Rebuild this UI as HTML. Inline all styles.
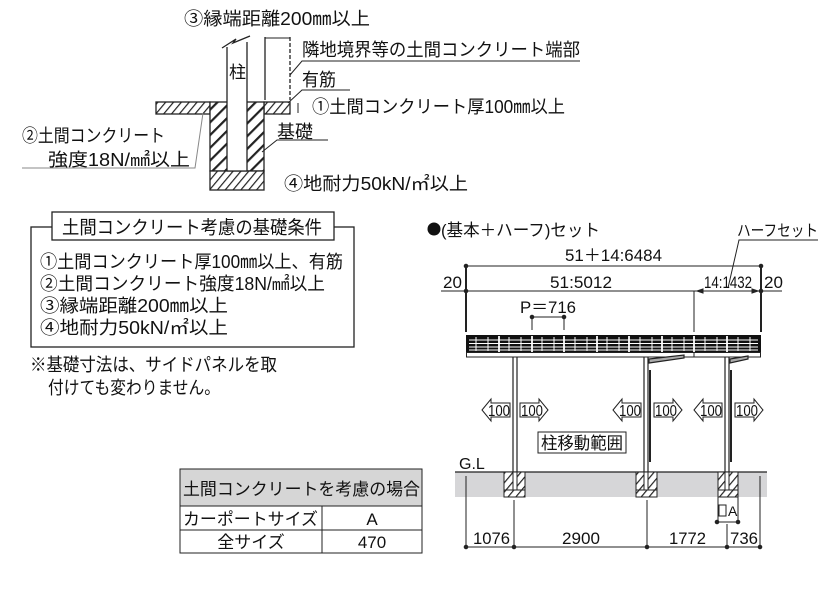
<!DOCTYPE html>
<html><head><meta charset="utf-8"><style>
html,body{margin:0;padding:0;background:#fff}
svg{display:block}
text{font-family:"Liberation Sans","Noto Sans CJK JP",sans-serif;fill:#111}
</style></head><body>
<svg width="831" height="597" viewBox="0 0 831 597" xmlns="http://www.w3.org/2000/svg">
<defs>
<pattern id="h" width="9" height="9" patternUnits="userSpaceOnUse" patternTransform="rotate(45)">
<rect width="9" height="9" fill="#fff"/><rect x="0" y="0" width="2.2" height="9" fill="#222"/>
</pattern>
<pattern id="h2" width="6" height="6" patternUnits="userSpaceOnUse" patternTransform="rotate(40)">
<rect width="6" height="6" fill="#fff"/><rect x="0" y="0" width="1.2" height="6" fill="#222"/>
</pattern>
<g id="la"><polygon points="0,11 9,0 9,4 28,4 28,18 9,18 9,22" fill="#fff" stroke="#222" stroke-width="1"/></g>
<g id="ra"><polygon points="28,11 19,0 19,4 0,4 0,18 19,18 19,22" fill="#fff" stroke="#222" stroke-width="1"/></g>
</defs>

<!-- top-left detail -->
<g stroke="#222" stroke-width="1.3" fill="none">
<rect x="156" y="102" width="54" height="12" fill="url(#h2)"/>
<rect x="264" y="102" width="26" height="12" fill="url(#h2)"/>
<rect x="210" y="102" width="54" height="69" fill="url(#h)"/>
<rect x="210" y="171" width="54" height="19" fill="url(#h2)"/>
<rect x="227" y="44" width="20" height="127" fill="#fff" stroke="none"/>
<line x1="227" y1="47" x2="227" y2="171"/><line x1="247" y1="42" x2="247" y2="171"/>
<line x1="227" y1="171" x2="247" y2="171"/>
<polyline points="222,48 236,39 233,43 250,36"/>
<line x1="265" y1="37" x2="265" y2="100"/>
<line x1="290" y1="37" x2="290" y2="100" stroke-dasharray="4,2"/>
<line x1="265" y1="38" x2="290" y2="38" stroke-width="1"/>
<line x1="298" y1="103" x2="298" y2="113" stroke-width="1"/>
<polyline points="580,61 302,61 290,75" stroke-width="1"/>
<polyline points="350,90 302,90 288,103" stroke-width="1"/>
<polyline points="328,140 277,140 262,152" stroke-width="1"/>
<polyline points="22,168 195,168 203,113" stroke-width="1" stroke="#888"/>
</g>
<g font-size="18">
<text x="184" y="25" textLength="186" lengthAdjust="spacingAndGlyphs">③縁端距離200㎜以上</text>
<text x="302" y="56" textLength="278" lengthAdjust="spacingAndGlyphs">隣地境界等の土間コンクリート端部</text>
<text x="302" y="86" textLength="34" lengthAdjust="spacingAndGlyphs">有筋</text>
<text x="312" y="113" textLength="253" lengthAdjust="spacingAndGlyphs">①土間コンクリート厚100㎜以上</text>
<text x="277" y="138" textLength="36" lengthAdjust="spacingAndGlyphs">基礎</text>
<text x="284" y="190" textLength="184" lengthAdjust="spacingAndGlyphs">④地耐力50kN/㎡以上</text>
<text x="229" y="78" font-size="17">柱</text>
<text x="22" y="142" textLength="143" lengthAdjust="spacingAndGlyphs">②土間コンクリート</text>
<text x="48" y="166" textLength="142" lengthAdjust="spacingAndGlyphs">強度18N/㎟以上</text>
</g>

<!-- conditions box -->
<rect x="31" y="227" width="323" height="120" fill="#fff" stroke="#222" stroke-width="1.3"/>
<rect x="52" y="212" width="282" height="28" fill="#fff" stroke="#222" stroke-width="1.3"/>
<text x="62" y="234" font-size="18.5" textLength="260" lengthAdjust="spacingAndGlyphs">土間コンクリート考慮の基礎条件</text>
<g font-size="18">
<text x="40" y="268" textLength="303" lengthAdjust="spacingAndGlyphs">①土間コンクリート厚100㎜以上、有筋</text>
<text x="40" y="290" textLength="285" lengthAdjust="spacingAndGlyphs">②土間コンクリート強度18N/㎟以上</text>
<text x="40" y="312" textLength="188" lengthAdjust="spacingAndGlyphs">③縁端距離200㎜以上</text>
<text x="40" y="334" textLength="188" lengthAdjust="spacingAndGlyphs">④地耐力50kN/㎡以上</text>
<text x="30" y="371" textLength="247" lengthAdjust="spacingAndGlyphs">※基礎寸法は、サイドパネルを取</text>
<text x="48" y="394" textLength="172" lengthAdjust="spacingAndGlyphs">付けても変わりません。</text>
</g>

<!-- table -->
<rect x="180" y="469" width="242" height="37" fill="#d6d6d6" stroke="#222" stroke-width="1"/>
<rect x="180" y="506" width="242" height="47" fill="#fff" stroke="#222" stroke-width="1"/>
<line x1="180" y1="530" x2="422" y2="530" stroke="#222"/>
<line x1="322" y1="506" x2="322" y2="553" stroke="#222"/>
<g font-size="17">
<text x="183" y="495" textLength="237" lengthAdjust="spacingAndGlyphs">土間コンクリートを考慮の場合</text>
<text x="183" y="525" textLength="135" lengthAdjust="spacingAndGlyphs">カーポートサイズ</text>
<text x="372" y="525" text-anchor="middle">A</text>
<text x="251" y="548" text-anchor="middle">全サイズ</text>
<text x="372" y="548" text-anchor="middle">470</text>
</g>

<!-- right diagram -->
<circle cx="434" cy="229" r="6.5" fill="#111"/>
<text x="441" y="236" font-size="17" textLength="159" lengthAdjust="spacingAndGlyphs">(基本＋ハーフ)セット</text>
<text x="737" y="236" font-size="16" textLength="81" lengthAdjust="spacingAndGlyphs">ハーフセット</text>
<polyline points="818,240 739,240 728,288" fill="none" stroke="#222" stroke-width="1"/>
<g stroke="#222" stroke-width="1" fill="#222">
<line x1="466" y1="266" x2="761" y2="266"/>
<line x1="441" y1="291" x2="782" y2="291"/>
<circle cx="466" cy="266" r="1.8"/><circle cx="761" cy="266" r="1.8"/>
<circle cx="466" cy="291" r="1.8"/><circle cx="761" cy="291" r="1.8"/>
<line x1="466" y1="266" x2="466" y2="332" stroke-width="2"/>
<line x1="761" y1="266" x2="761" y2="332" stroke-width="2"/>
<line x1="694" y1="291" x2="694" y2="332"/>
<polygon points="697,291 703,289 703,293"/><polygon points="758,291 752,289 752,293"/>
<line x1="532" y1="317" x2="564" y2="317"/>
<line x1="532" y1="317" x2="532" y2="330"/><line x1="564" y1="317" x2="564" y2="330"/>
<circle cx="532" cy="317" r="1.8"/><circle cx="564" cy="317" r="1.8"/>
</g>
<g font-size="17">
<text x="565" y="261" textLength="97" lengthAdjust="spacingAndGlyphs">51＋14:6484</text>
<text x="443" y="288">20</text>
<text x="550" y="288" textLength="62" lengthAdjust="spacingAndGlyphs">51:5012</text>
<text x="704" y="288" textLength="48" lengthAdjust="spacingAndGlyphs">14:1432</text>
<text x="764" y="288">20</text>
<text x="520" y="313" textLength="56" lengthAdjust="spacingAndGlyphs">P＝716</text>
</g>

<!-- roof -->
<rect x="466" y="335" width="295" height="18" fill="#111"/>
<g stroke="#fff" stroke-width="1">
<line x1="469" y1="340" x2="758" y2="340"/><line x1="469" y1="343.5" x2="758" y2="343.5"/>
<line x1="469" y1="347" x2="758" y2="347"/><line x1="469" y1="350" x2="758" y2="350"/>
<line x1="476" y1="337" x2="476" y2="351"/><line x1="488" y1="337" x2="488" y2="351"/>
<line x1="509" y1="337" x2="509" y2="351"/><line x1="521" y1="337" x2="521" y2="351"/>
<line x1="542" y1="337" x2="542" y2="351"/><line x1="554" y1="337" x2="554" y2="351"/>
<line x1="575" y1="337" x2="575" y2="351"/><line x1="587" y1="337" x2="587" y2="351"/>
<line x1="607" y1="337" x2="607" y2="351"/><line x1="619" y1="337" x2="619" y2="351"/>
<line x1="640" y1="337" x2="640" y2="351"/><line x1="652" y1="337" x2="652" y2="351"/>
<line x1="672" y1="337" x2="672" y2="351"/><line x1="684" y1="337" x2="684" y2="351"/>
<line x1="705" y1="337" x2="705" y2="351"/><line x1="717" y1="337" x2="717" y2="351"/>
<line x1="738" y1="337" x2="738" y2="351"/><line x1="750" y1="337" x2="750" y2="351"/>
</g>
<g stroke="#fff" stroke-width="1.8">
<line x1="499" y1="336" x2="499" y2="352"/><line x1="532" y1="336" x2="532" y2="352"/>
<line x1="564" y1="336" x2="564" y2="352"/><line x1="597" y1="336" x2="597" y2="352"/>
<line x1="629" y1="336" x2="629" y2="352"/><line x1="662" y1="336" x2="662" y2="352"/>
<line x1="694" y1="336" x2="694" y2="352"/><line x1="727" y1="336" x2="727" y2="352"/>
</g>
<rect x="466.5" y="352.5" width="294" height="4.5" fill="#fff" stroke="#222" stroke-width="1"/>
<line x1="694" y1="353" x2="694" y2="357" stroke="#222"/>

<!-- posts -->
<g stroke="#222" stroke-width="1.2" fill="none">
<line x1="513" y1="357" x2="513" y2="488"/><line x1="517" y1="357" x2="517" y2="488"/>
<line x1="644" y1="357" x2="644" y2="488"/><line x1="648" y1="357" x2="648" y2="488"/>
<line x1="650" y1="370" x2="650" y2="462" stroke-width="2"/>
<line x1="725" y1="357" x2="725" y2="488"/><line x1="729" y1="357" x2="729" y2="488"/>
<line x1="731" y1="370" x2="731" y2="462" stroke-width="2"/>
<polygon points="649,359 684,355 684,358 649,363" fill="#aaa"/>
<polygon points="730,359 748,356 748,359 730,363" fill="#aaa"/>
</g>

<!-- arrows -->
<use href="#la" x="482" y="399"/><use href="#ra" x="520" y="399"/>
<use href="#la" x="613" y="399"/><use href="#ra" x="654" y="399"/>
<use href="#la" x="694" y="399"/><use href="#ra" x="735" y="399"/>
<g font-size="16" text-anchor="middle">
<text x="499" y="416" textLength="22" lengthAdjust="spacingAndGlyphs">100</text><text x="532" y="416" textLength="22" lengthAdjust="spacingAndGlyphs">100</text>
<text x="630" y="416" textLength="22" lengthAdjust="spacingAndGlyphs">100</text><text x="666" y="416" textLength="22" lengthAdjust="spacingAndGlyphs">100</text>
<text x="711" y="416" textLength="22" lengthAdjust="spacingAndGlyphs">100</text><text x="747" y="416" textLength="22" lengthAdjust="spacingAndGlyphs">100</text>
</g>
<rect x="538" y="432" width="88" height="21" fill="#fff" stroke="#222"/>
<text x="541" y="449" font-size="17" textLength="82" lengthAdjust="spacingAndGlyphs">柱移動範囲</text>

<!-- ground -->
<text x="459" y="469" font-size="16">G.L</text>
<rect x="455" y="472" width="312" height="25" fill="#d6d6d8"/>
<line x1="455" y1="472" x2="767" y2="472" stroke="#222" stroke-width="1.2"/>
<g stroke="#222" stroke-width="1">
<rect x="504" y="472" width="21" height="25" fill="url(#h2)"/>
<rect x="636" y="472" width="21" height="25" fill="url(#h2)"/>
<rect x="718" y="472" width="20" height="25" fill="url(#h2)"/>
<line x1="504" y1="490" x2="525" y2="490"/><line x1="636" y1="490" x2="657" y2="490"/><line x1="718" y1="490" x2="738" y2="490"/>
</g>
<g stroke="#222" stroke-width="1" fill="#fff">
<rect x="513" y="472" width="4" height="18"/><rect x="644" y="472" width="4" height="18"/><rect x="725" y="472" width="4" height="18"/>
</g>
<g stroke="#222" stroke-width="1" fill="#222">
<line x1="718" y1="497" x2="718" y2="522"/><line x1="738" y1="497" x2="738" y2="522"/>
<line x1="717" y1="522" x2="738" y2="522"/>
<circle cx="717" cy="522" r="1.8"/><circle cx="738" cy="522" r="1.8"/>
<line x1="466" y1="476" x2="466" y2="547"/><line x1="514" y1="500" x2="514" y2="547"/>
<line x1="647" y1="500" x2="647" y2="547"/><line x1="727" y1="524" x2="727" y2="547"/>
<line x1="760" y1="476" x2="760" y2="547"/>
<line x1="466" y1="547" x2="760" y2="547"/>
<circle cx="466" cy="547" r="1.8"/><circle cx="514" cy="547" r="1.8"/><circle cx="647" cy="547" r="1.8"/><circle cx="727" cy="547" r="1.8"/><circle cx="760" cy="547" r="1.8"/>
</g>
<rect x="719" y="505" width="7" height="11" fill="#fff" stroke="#222"/>
<text x="728" y="516" font-size="14">A</text>
<g font-size="17">
<text x="473" y="544" textLength="37" lengthAdjust="spacingAndGlyphs">1076</text>
<text x="562" y="544" textLength="38" lengthAdjust="spacingAndGlyphs">2900</text>
<text x="669" y="544" textLength="37" lengthAdjust="spacingAndGlyphs">1772</text>
<text x="730" y="544" textLength="28" lengthAdjust="spacingAndGlyphs">736</text>
</g>
</svg>
</body></html>
